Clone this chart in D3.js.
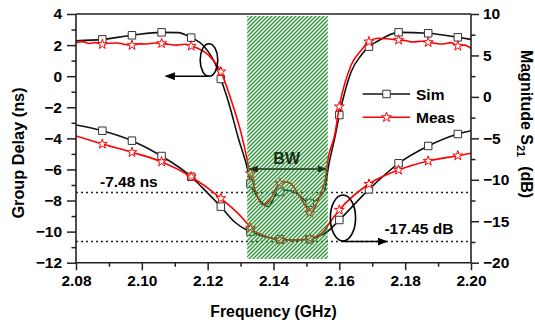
<!DOCTYPE html>
<html><head><meta charset="utf-8">
<script src="https://cdn.jsdelivr.net/npm/d3@7"></script>
<style>
html,body{margin:0;padding:0;background:#fff;}
svg{display:block;}
text{font-family:"Liberation Sans",Arial,sans-serif;font-weight:bold;fill:#000;}
</style></head>
<body>
<svg id="c" width="535" height="325"></svg>
<script>
// ---- data ----
const xTicks = [2.08, 2.10, 2.12, 2.14, 2.16, 2.18, 2.20];
const xTickLabels = ["2.08", "2.10", "2.12", "2.14", "2.16", "2.18", "2.20"];
const yLeftTicks = [4, 2, 0, -2, -4, -6, -8, -10, -12];
const yRightTicks = [10, 5, 0, -5, -10, -15, -20];
const markerFreqs = [2.088, 2.097, 2.106, 2.115, 2.124, 2.133, 2.142, 2.151, 2.160, 2.169, 2.178, 2.187, 2.196];

// Group delay (ns), left axis
const gdSimFreq = [2.080,2.088,2.097,2.106,2.111,2.115,2.119,2.1227,2.124,2.1263,2.1293,2.1323,2.133,2.1344,2.1374,2.1384,2.1410,2.142,2.1435,2.1470,2.1501,2.151,2.1541,2.1556,2.1566,2.1586,2.160,2.1636,2.1667,2.169,2.1717,2.178,2.187,2.196,2.200];
const gdSimVal  = [2.28,2.37,2.63,2.82,2.80,2.48,1.90,0.61,-0.18,-1.64,-3.98,-6.15,-6.90,-7.52,-8.29,-8.40,-7.53,-7.45,-7.32,-7.53,-8.08,-8.15,-7.75,-7.32,-5.93,-3.98,-2.50,0.29,1.36,1.90,2.26,2.82,2.76,2.50,2.37];
const gdMeasFreq = [2.080,2.082,2.084,2.086,2.088,2.090,2.0925,2.095,2.097,2.099,2.1015,2.104,2.106,2.108,2.1105,2.113,2.115,2.1202,2.124,2.1273,2.1303,2.1319,2.1323,2.133,2.1344,2.1369,2.1395,2.1413,2.142,2.1435,2.1450,2.1486,2.1505,2.151,2.1529,2.1547,2.1556,2.1566,2.1586,2.160,2.1636,2.1667,2.169,2.1717,2.178,2.180,2.1823,2.185,2.187,2.189,2.1915,2.194,2.196,2.198,2.200];
const gdMeasVal  = [2.15,2.22,2.10,2.16,2.05,2.12,2.13,2.04,1.99,2.08,2.07,2.13,2.11,2.05,2.00,2.05,1.94,1.36,0.29,-1.64,-3.78,-5.28,-5.71,-6.25,-7.32,-8.29,-7.75,-7.00,-6.90,-6.79,-6.87,-7.97,-8.61,-8.80,-8.29,-7.32,-6.79,-5.28,-3.78,-1.96,0.72,1.68,2.22,2.44,2.33,2.30,2.20,2.25,2.18,2.12,2.07,2.16,1.94,2.00,1.79];

// Magnitude S21 (dB), right axis
const magSimFreq = [2.080,2.088,2.097,2.106,2.115,2.1195,2.124,2.1282,2.1319,2.133,2.1375,2.142,2.1465,2.151,2.154,2.1562,2.160,2.169,2.178,2.187,2.196,2.200];
const magSimVal  = [-3.39,-4.08,-5.28,-7.13,-9.63,-11.40,-13.24,-15.09,-16.06,-16.26,-16.90,-17.18,-17.26,-17.18,-16.78,-16.30,-14.85,-11.15,-8.01,-5.92,-4.48,-4.08];
const magMeasFreq = [2.080,2.088,2.097,2.106,2.115,2.124,2.1319,2.133,2.1375,2.142,2.1465,2.151,2.154,2.1556,2.1566,2.160,2.169,2.178,2.187,2.196,2.200];
const magMeasVal  = [-4.72,-5.68,-6.68,-7.82,-9.63,-12.23,-15.25,-15.85,-16.78,-17.26,-17.26,-17.06,-16.66,-16.06,-15.45,-13.64,-10.51,-8.82,-7.73,-7.09,-6.80];

const bandFreq = [2.132, 2.1565];
const bandNs = [3.87, -11.76];
const gdRef = -7.48;      // ns
const magRef = -17.45;    // dB
const legendNames = ["Sim", "Meas"];

// ---- scales ----
const svg = d3.select("#c");
const x = d3.scaleLinear().domain([2.08, 2.20]).range([76, 471]);
const yL = d3.scaleLinear().domain([-12, 4]).range([262.7, 14]);
const yR = d3.scaleLinear().domain([-20, 10]).range([262.7, 14]);
const FS = 15.5;

const defs = svg.append("defs");
const pat = defs.append("pattern").attr("id","hatch").attr("patternUnits","userSpaceOnUse")
  .attr("width",4).attr("height",4);
pat.append("path").attr("d","M-1,1 l2,-2 M0,4 l4,-4 M3,5 l2,-2")
  .attr("stroke","#2f9a3a").attr("stroke-width",1.45);
defs.append("clipPath").attr("id","plot").append("rect")
  .attr("x",76).attr("y",14).attr("width",395).attr("height",248.7);
function arrowMarker(id){
  defs.append("marker").attr("id",id).attr("viewBox","0 0 10 8").attr("refX",9).attr("refY",4)
    .attr("markerWidth",10).attr("markerHeight",8).attr("markerUnits","userSpaceOnUse").attr("orient","auto-start-reverse")
    .append("path").attr("d","M0,0 L10,4 L0,8 Z").attr("fill","#000");
}
arrowMarker("arr");
defs.append("marker").attr("id","arrg").attr("viewBox","0 0 10 8").attr("refX",9).attr("refY",4)
    .attr("markerWidth",9).attr("markerHeight",7).attr("markerUnits","userSpaceOnUse").attr("orient","auto-start-reverse")
    .append("path").attr("d","M0,0 L10,4 L0,8 Z").attr("fill","#1d2f1d");

// reference dotted lines
svg.append("line").attr("x1",x(2.08)).attr("x2",x(2.20)).attr("y1",yL(gdRef)).attr("y2",yL(gdRef))
  .attr("stroke","#222").attr("stroke-width",1.4).attr("stroke-dasharray","2,3");
svg.append("line").attr("x1",x(2.08)).attr("x2",x(2.20)).attr("y1",yR(magRef)).attr("y2",yR(magRef))
  .attr("stroke","#222").attr("stroke-width",1.4).attr("stroke-dasharray","2,3");

// curves
const g = svg.append("g").attr("clip-path","url(#plot)");
function series(fr, vals, ys, color, sym){
  const pts = fr.map((f,i)=>[f, vals[i]]);
  const line = d3.line().x(d=>x(d[0])).y(d=>ys(d[1])).curve(d3.curveMonotoneX);
  g.append("path").datum(pts).attr("d",line).attr("fill","none").attr("stroke",color).attr("stroke-width",1.6);
  return pts;
}
const sets = [
  [gdSimFreq, gdSimVal, yL, "#111", "sq"],
  [magSimFreq, magSimVal, yR, "#111", "sq"],
  [gdMeasFreq, gdMeasVal, yL, "#f00", "st"],
  [magMeasFreq, magMeasVal, yR, "#f00", "st"],
];
const sqSym = d3.symbol().type(d3.symbolSquare).size(56);
const stSym = d3.symbol().type(d3.symbolStar).size(30);
sets.forEach(s=>{
  const pts = series(s[0], s[1], s[2], s[3]);
  const mk = pts.filter(p=>markerFreqs.some(m=>Math.abs(m-p[0])<1e-6));
  g.selectAll(null).data(mk).enter().append("path")
    .attr("transform",d=>`translate(${x(d[0])},${s[2](d[1])})`)
    .attr("d", s[4]==="sq" ? sqSym() : stSym())
    .attr("fill","#fff").attr("stroke", s[4]==="sq" ? "#333" : "#f00").attr("stroke-width",1);
});

// hatched band (on top of curves)
svg.append("rect").attr("x",x(bandFreq[0])).attr("width",x(bandFreq[1])-x(bandFreq[0]))
  .attr("y",yL(bandNs[0])).attr("height",yL(bandNs[1])-yL(bandNs[0]))
  .attr("fill","url(#hatch)");

// BW annotation
svg.append("line").attr("x1",x(2.1329)).attr("x2",x(2.1559)).attr("y1",yL(-5.97)).attr("y2",yL(-5.97))
  .attr("stroke","#1d2f1d").attr("stroke-width",1.5)
  .attr("marker-start","url(#arrg)").attr("marker-end","url(#arrg)");
svg.append("text").attr("x",x(2.144)).attr("y",yL(-5.62)).attr("text-anchor","middle")
  .style("font-size","16px").style("fill","#1d2f1d").text("BW");

// ellipses + arrows
svg.append("ellipse").attr("cx",x(2.1204)).attr("cy",yL(1.04)).attr("rx",8.8).attr("ry",16.3)
  .attr("fill","none").attr("stroke","#000").attr("stroke-width",1.6);
svg.append("line").attr("x1",x(2.1204)).attr("x2",x(2.1073)).attr("y1",yL(0)).attr("y2",yL(0))
  .attr("stroke","#000").attr("stroke-width",1.6).attr("marker-end","url(#arr)");
svg.append("ellipse").attr("cx",x(2.1611)).attr("cy",yR(-14.6)).attr("rx",12.6).attr("ry",23)
  .attr("fill","none").attr("stroke","#000").attr("stroke-width",1.6);
svg.append("line").attr("x1",x(2.1611)).attr("x2",x(2.1744)).attr("y1",yR(magRef)).attr("y2",yR(magRef))
  .attr("stroke","#000").attr("stroke-width",1.6).attr("marker-end","url(#arr)");

svg.append("text").attr("x",x(2.0873)).attr("y",yL(-7.13)).style("font-size",FS+"px").text("-7.48 ns");
svg.append("text").attr("x",x(2.1737)).attr("y",yR(-16.54)).style("font-size",FS+"px").text("-17.45 dB");

// axes
const ax = svg.append("g").attr("stroke","#222").attr("stroke-width",1.6);
ax.append("line").attr("x1",76).attr("x2",471).attr("y1",14).attr("y2",14);
ax.append("line").attr("x1",76).attr("x2",471).attr("y1",262.7).attr("y2",262.7);
ax.append("line").attr("x1",76).attr("x2",76).attr("y1",14).attr("y2",262.7);
ax.append("line").attr("x1",471).attr("x2",471).attr("y1",14).attr("y2",262.7);

const xAxis = d3.axisBottom(x).tickValues(xTicks).tickSize(7.5).tickFormat((d,i)=>xTickLabels[i]).tickPadding(4);
const xg = svg.append("g").attr("transform","translate(0,262.7)").call(xAxis);
const xMinor = svg.append("g").attr("transform","translate(0,262.7)").call(d3.axisBottom(x).tickValues(d3.range(2.09,2.20,0.02)).tickSize(4).tickFormat(""));
const yLAxis = d3.axisLeft(yL).tickValues(yLeftTicks).tickSize(9).tickPadding(5);
const ylg = svg.append("g").attr("transform","translate(76,0)").call(yLAxis);
const ylMinor = svg.append("g").attr("transform","translate(76,0)").call(d3.axisLeft(yL).tickValues(d3.range(3,-12,-2)).tickSize(4.5).tickFormat(""));
const yRAxis = d3.axisRight(yR).tickValues(yRightTicks).tickSize(8).tickPadding(4);
const yrg = svg.append("g").attr("transform","translate(471,0)").call(yRAxis);
const yrMinor = svg.append("g").attr("transform","translate(471,0)").call(d3.axisRight(yR).tickValues(d3.range(7.5,-20,-5)).tickSize(4.5).tickFormat(""));
[xg,xMinor,ylg,ylMinor,yrg,yrMinor].forEach(a=>{
  a.select(".domain").remove();
  a.selectAll("line").attr("stroke","#222").attr("stroke-width",1.5);
  a.selectAll("text").style("font-size",FS+"px").style("font-family",'"Liberation Sans",Arial,sans-serif').style("font-weight","bold").attr("fill","#000");
});
xg.selectAll("text").attr("dy","0.75em");

// titles
svg.append("text").attr("x",273.5).attr("y",317).attr("text-anchor","middle").style("font-size","15.8px").text("Frequency (GHz)");
svg.append("text").attr("transform","translate(24,153) rotate(-90)").attr("text-anchor","middle")
  .style("font-size","16.3px").text("Group Delay (ns)");
const rt = svg.append("text").attr("transform","translate(521,124) rotate(90)").attr("text-anchor","middle").style("font-size","16px");
rt.append("tspan").text("Magnitude S");
rt.append("tspan").attr("dy",4).style("font-size","11px").text("21");
rt.append("tspan").attr("dy",-4).text("  (dB)").attr("xml:space","preserve");

// legend
const lg = svg.append("g");
[0,1].forEach(i=>{
  const yy = i===0 ? 94 : 117.3;
  const col = i===0 ? "#111" : "#f00";
  lg.append("line").attr("x1",362.7).attr("x2",410).attr("y1",yy).attr("y2",yy).attr("stroke",col).attr("stroke-width",1.6);
  lg.append("path").attr("transform",`translate(386.5,${yy})`).attr("d", i===0 ? sqSym() : stSym())
    .attr("fill","#fff").attr("stroke", i===0 ? "#333" : "#f00").attr("stroke-width",1);
  lg.append("text").attr("x",416).attr("y",yy+5.5).style("font-size",FS+"px").text(legendNames[i]);
});
</script>
</body></html>
